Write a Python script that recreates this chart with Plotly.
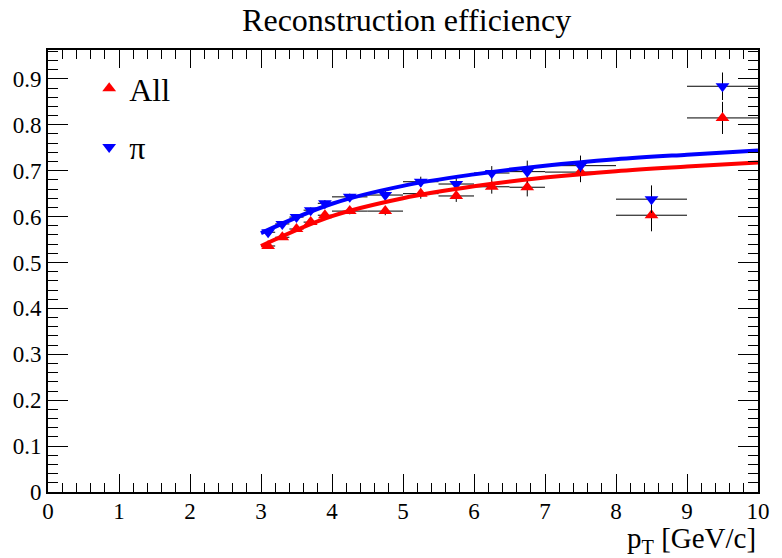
import plotly.graph_objects as go

# ---- data ----
pt = [3.1, 3.3, 3.5, 3.7, 3.9, 4.25, 4.75, 5.25, 5.75, 6.25, 6.75, 7.5, 8.5, 9.5]
pt_err = [0.1, 0.1, 0.1, 0.1, 0.1, 0.25, 0.25, 0.25, 0.25, 0.25, 0.25, 0.5, 0.5, 0.5]

eff_all = [0.536, 0.555, 0.573, 0.588, 0.603, 0.612, 0.612, 0.650, 0.645, 0.665, 0.664, 0.697, 0.603, 0.815]
err_all = [0.005, 0.005, 0.006, 0.006, 0.007, 0.007, 0.009, 0.011, 0.013, 0.015, 0.020, 0.022, 0.035, 0.035]

eff_pi = [0.566, 0.584, 0.599, 0.614, 0.629, 0.643, 0.647, 0.676, 0.671, 0.695, 0.698, 0.711, 0.638, 0.884]
err_pi = [0.005, 0.005, 0.006, 0.006, 0.007, 0.007, 0.009, 0.011, 0.013, 0.015, 0.024, 0.022, 0.030, 0.030]

fit_x = [3.0, 4.0, 5.0, 6.0, 7.0, 8.0, 9.0, 10.0]
fit_all = [0.536, 0.601, 0.640, 0.666, 0.685, 0.699, 0.709, 0.718]
fit_pi = [0.564, 0.628, 0.667, 0.692, 0.711, 0.725, 0.735, 0.744]

FONT = "Liberation Serif"

fig = go.Figure()

fig.add_trace(go.Scatter(
    x=pt, y=eff_all, mode="markers", name="All", legendgroup="a",
    marker=dict(symbol="triangle-up", size=12, color="#ff0000"),
    error_x=dict(type="data", array=pt_err, color="black", thickness=1, width=0),
    error_y=dict(type="data", array=err_all, color="black", thickness=1, width=0),
))
fig.add_trace(go.Scatter(
    x=pt, y=eff_pi, mode="markers", name="π", legendgroup="b",
    marker=dict(symbol="triangle-down", size=12, color="#0000ff"),
    error_x=dict(type="data", array=pt_err, color="black", thickness=1, width=0),
    error_y=dict(type="data", array=err_pi, color="black", thickness=1, width=0),
))
fig.add_trace(go.Scatter(
    x=fit_x, y=fit_all, mode="lines", line=dict(color="#ff0000", width=4, shape="spline"),
    showlegend=False, hoverinfo="skip",
))
fig.add_trace(go.Scatter(
    x=fit_x, y=fit_pi, mode="lines", line=dict(color="#0000ff", width=4, shape="spline"),
    showlegend=False, hoverinfo="skip",
))

fig.update_xaxes(
    range=[0, 10], dtick=1, tick0=0, ticklen=18,
    showline=True, linecolor="black", linewidth=2, mirror="ticks",
    ticks="inside", tickcolor="black", tickwidth=1,
    showgrid=False, zeroline=False, ticklabelstandoff=-3,
    tickfont=dict(family=FONT, size=23, color="black"),
    minor=dict(dtick=0.2, ticklen=9, ticks="inside", tickcolor="black", showgrid=False),
)
fig.update_yaxes(
    range=[0, 0.963], dtick=0.1, tick0=0, ticklen=20,
    showline=True, linecolor="black", linewidth=2, mirror="ticks",
    ticks="inside", tickcolor="black", tickwidth=1,
    showgrid=False, zeroline=False,
    tickfont=dict(family=FONT, size=23, color="black"),
    minor=dict(dtick=0.02, ticklen=10, ticks="inside", tickcolor="black", showgrid=False),
)

fig.update_layout(
    width=782, height=558,
    margin=dict(l=48, r=13, t=50, b=66),
    font=dict(family=FONT, color="black"),
    paper_bgcolor="white", plot_bgcolor="white",
    title=dict(text="Reconstruction efficiency", x=0.52, xanchor="center",
               y=0.965, yanchor="middle", yref="container",
               font=dict(family=FONT, size=32, color="black")),
    legend=dict(x=0.058, y=0.975, xanchor="left", yanchor="top",
                font=dict(family=FONT, size=32, color="black"),
                bgcolor="rgba(0,0,0,0)", traceorder="grouped", tracegroupgap=14),
    annotations=[dict(
        text="p<sub>T</sub> [GeV/c]", xref="paper", yref="paper",
        x=1.0, y=-0.109, xanchor="right", yanchor="middle", showarrow=False,
        font=dict(family=FONT, size=29, color="black"),
    )],
)

fig.write_html("out.html")
